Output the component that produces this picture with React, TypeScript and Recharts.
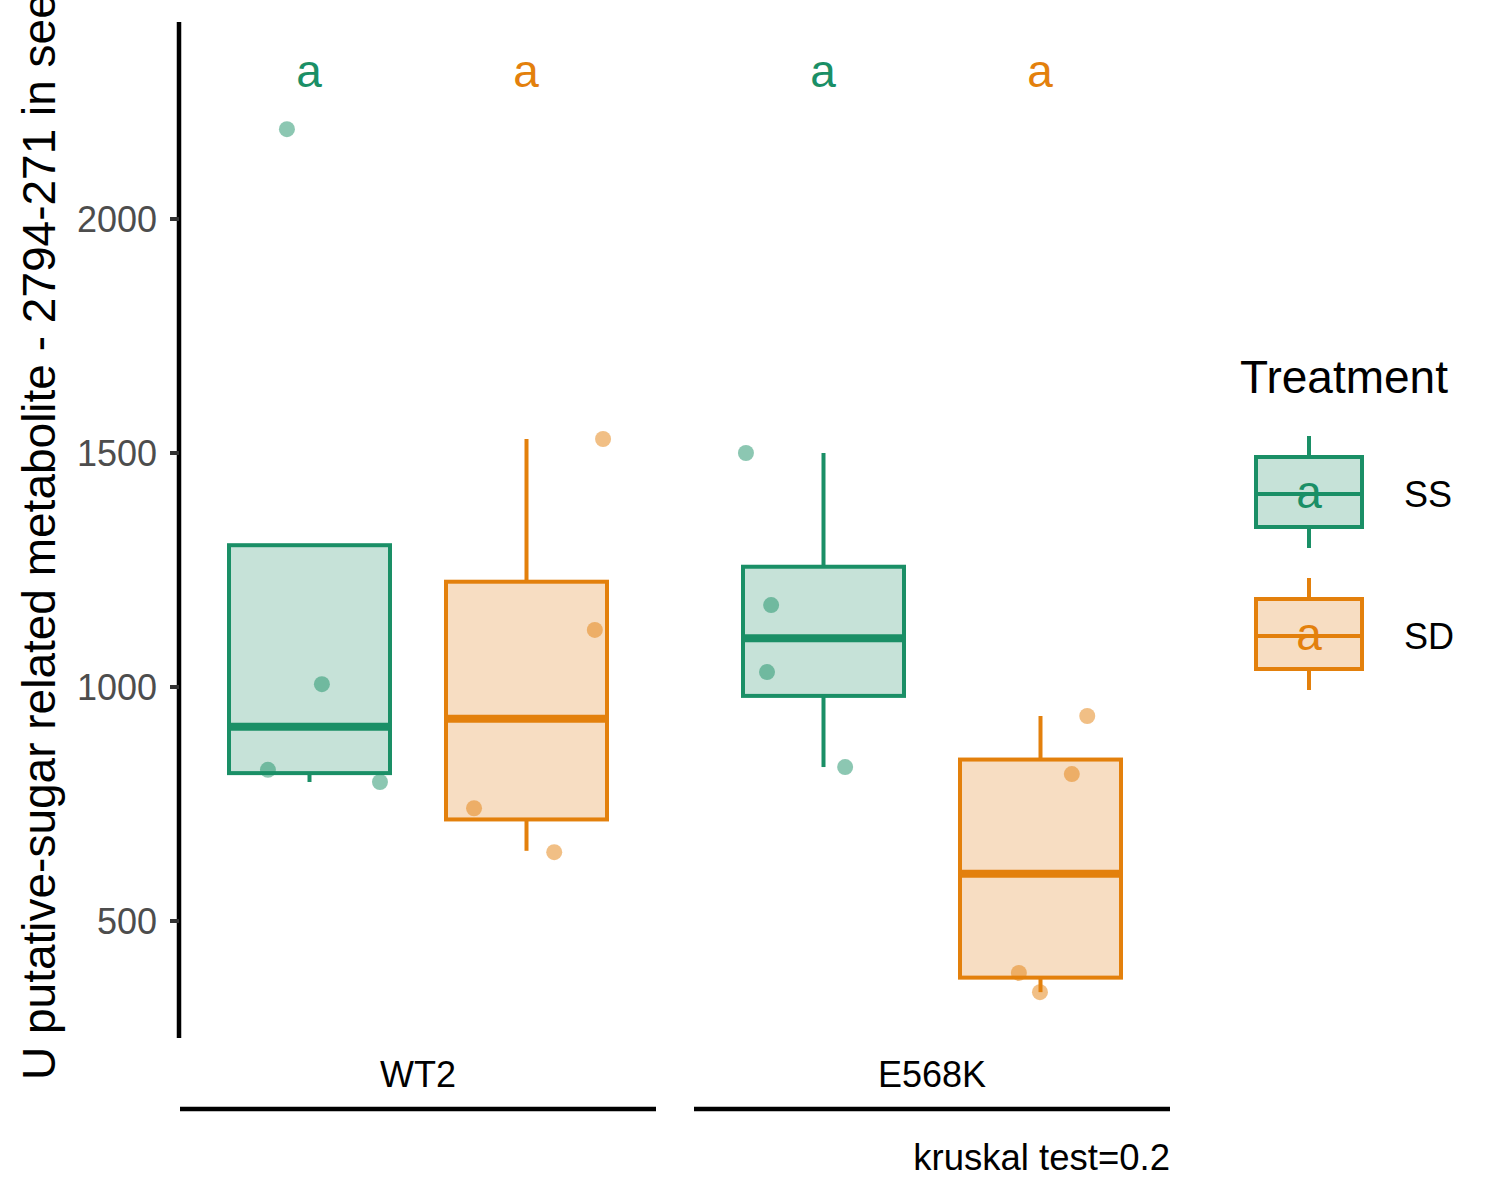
import { Bar, ComposedChart, Label, Legend, Scatter, XAxis, YAxis } from "recharts";

const GROUPS = ["WT2", "E568K"];
const TREATMENTS = ["SS", "SD"];
const COLORS = ["#1A8F66", "#E3800C"];
const FILLS = ["#C6E2D8", "#F7DDC2"];

// [lower whisker, Q1, median, Q3, upper whisker], one row per group
const SS_STATS = [
  [797, 816, 915, 1303, 1006],
  [829, 981, 1104, 1257, 1500],
];
const SD_STATS = [
  [650, 717, 932, 1225, 1530],
  [348, 379, 601, 845, 938],
];

// jittered observations, x on the group scale (1 = WT2, 2 = E568K)
const SS_X = [0.745, 0.813, 0.708, 0.926, 1.638, 1.687, 1.679, 1.831];
const SS_Y = [2192, 1006, 823, 797, 1500, 1175, 1032, 829];
const SD_X = [1.36, 1.344, 1.109, 1.265, 2.302, 2.272, 2.169, 2.21];
const SD_Y = [1530, 1122, 741, 647, 938, 814, 389, 348];

// significance letters above each box
const LETTER_X = [0.788, 1.21, 1.788, 2.21];
const LETTERS = ["a", "a", "a", "a"];
const LETTER_Y = 2282;

const Y_TICKS = [500, 1000, 1500, 2000];
const Y_DOMAIN = [250, 2421];
const X_DOMAIN = [0.535, 2.463];

const Y_TITLE = "U putative-sugar related metabolite - 2794-271 in seed";
const KRUSKAL = "kruskal test=0.2";

const FONT = '"Liberation Sans", Arial, sans-serif';

const boxRows = GROUPS.map((g, i) => ({ group: g, SS: SS_STATS[i], SD: SD_STATS[i] }));
const ssPoints = SS_X.map((x, i) => ({ x, y: SS_Y[i] }));
const sdPoints = SD_X.map((x, i) => ({ x, y: SD_Y[i] }));
const letterPoints = LETTER_X.map((x, i) => ({
  x,
  y: LETTER_Y,
  text: LETTERS[i],
  color: COLORS[i % 2],
}));

const range = (s?: number[]) => (s ? [Math.min(s[0], s[1]), Math.max(s[3], s[4])] : undefined);

function BoxShape(props: any) {
  const { x, y, width, height, payload, k, idx } = props;
  const stats = payload && payload[k];
  if (!stats) return null;
  const [lo, q1, med, q3, hi] = stats;
  const top = Math.max(q3, hi);
  const bottom = Math.min(lo, q1);
  const py = (v: number) => y + (height * (top - v)) / (top - bottom);
  const cx = x + width / 2;
  const col = COLORS[idx];
  return (
    <g>
      <line x1={cx} x2={cx} y1={py(q3)} y2={py(hi)} stroke={col} strokeWidth={4} />
      <line x1={cx} x2={cx} y1={py(q1)} y2={py(lo)} stroke={col} strokeWidth={4} />
      <rect x={x} y={py(q3)} width={width} height={py(q1) - py(q3)} fill={FILLS[idx]} stroke={col} strokeWidth={4} />
      <line x1={x} x2={x + width} y1={py(med)} y2={py(med)} stroke={col} strokeWidth={8} />
    </g>
  );
}

function GroupTick({ x, y, payload }: any) {
  return (
    <g>
      <text x={x} y={y + 49} textAnchor="middle" fontSize={36} fill="#000" fontFamily={FONT}>
        {payload.value}
      </text>
      <line x1={x - 238} x2={x + 238} y1={y + 71} y2={y + 71} stroke="#000" strokeWidth={4.5} />
    </g>
  );
}

function TreatmentLegend() {
  return (
    <svg width={300} height={380} style={{ fontFamily: FONT }}>
      <text x={40} y={63} fontSize={46} fill="#000">
        Treatment
      </text>
      {TREATMENTS.map((t, i) => {
        const top = 127 + i * 142;
        return (
          <g key={t}>
            <line x1={109} x2={109} y1={top - 21} y2={top + 91} stroke={COLORS[i]} strokeWidth={4} />
            <rect x={56} y={top} width={106} height={70} fill={FILLS[i]} stroke={COLORS[i]} strokeWidth={4} />
            <line x1={56} x2={162} y1={top + 37} y2={top + 37} stroke={COLORS[i]} strokeWidth={4} />
            <text x={109} y={top + 51} textAnchor="middle" fontSize={46} fill={COLORS[i]}>
              a
            </text>
            <text x={204} y={top + 50} fontSize={36} fill="#000">
              {t}
            </text>
          </g>
        );
      })}
    </svg>
  );
}

export default function App() {
  return (
    <div style={{ position: "absolute", left: 0, top: 0, width: 1500, height: 1200, background: "#fff", fontFamily: FONT }}>
      <ComposedChart width={1500} height={1200} data={boxRows} margin={{ top: 22, right: 330, bottom: 0, left: 0 }} barSize={161} barGap={56}>
        <XAxis
          xAxisId="cat"
          dataKey="group"
          type="category"
          axisLine={false}
          tickLine={false}
          tickSize={0}
          tickMargin={0}
          height={162}
          interval={0}
          padding={{ left: -18, right: -19 }}
          tick={<GroupTick />}
        >
          <Label
            content={({ viewBox }: any) => (
              <text x={viewBox.x + viewBox.width} y={viewBox.y + 132} textAnchor="end" fontSize={36.5} fill="#000" fontFamily={FONT}>
                {KRUSKAL}
              </text>
            )}
          />
        </XAxis>
        <XAxis xAxisId="num" type="number" domain={X_DOMAIN} allowDataOverflow hide dataKey="x" />
        <YAxis
          type="number"
          domain={Y_DOMAIN}
          ticks={Y_TICKS}
          allowDataOverflow
          width={179}
          tickSize={9}
          tickMargin={13}
          axisLine={{ stroke: "#000", strokeWidth: 4.5 }}
          tickLine={{ stroke: "#333", strokeWidth: 4 }}
          tick={{ fill: "#4D4D4D", fontSize: 36, fontFamily: FONT }}
        >
          <Label
            content={({ viewBox }: any) => (
              <text
                transform={`translate(${viewBox.x + 55},${viewBox.y + viewBox.height + 42}) rotate(-90)`}
                textAnchor="start"
                fontSize={46}
                fill="#000"
                fontFamily={FONT}
              >
                {Y_TITLE}
              </text>
            )}
          />
        </YAxis>
        <Bar xAxisId="cat" dataKey={(d: any) => range(d && d.SS)} isAnimationActive={false} shape={(p: any) => <BoxShape {...p} k="SS" idx={0} />} />
        <Bar xAxisId="cat" dataKey={(d: any) => range(d && d.SD)} isAnimationActive={false} shape={(p: any) => <BoxShape {...p} k="SD" idx={1} />} />
        <Scatter
          xAxisId="num"
          data={ssPoints}
          dataKey="y"
          isAnimationActive={false}
          shape={(p: any) => <circle cx={p.cx} cy={p.cy} r={8} fill={COLORS[0]} fillOpacity={0.5} />}
        />
        <Scatter
          xAxisId="num"
          data={sdPoints}
          dataKey="y"
          isAnimationActive={false}
          shape={(p: any) => <circle cx={p.cx} cy={p.cy} r={8} fill={COLORS[1]} fillOpacity={0.5} />}
        />
        <Scatter
          xAxisId="num"
          data={letterPoints}
          dataKey="y"
          isAnimationActive={false}
          shape={(p: any) => (
            <text x={p.cx} y={p.cy} textAnchor="middle" fontSize={46} fill={p.payload && p.payload.color} fontFamily={FONT}>
              {p.payload && p.payload.text}
            </text>
          )}
        />
        <Legend layout="vertical" align="center" verticalAlign="middle" wrapperStyle={{ left: 1200, top: 330, width: 300 }} content={() => <TreatmentLegend />} />
      </ComposedChart>
    </div>
  );
}
